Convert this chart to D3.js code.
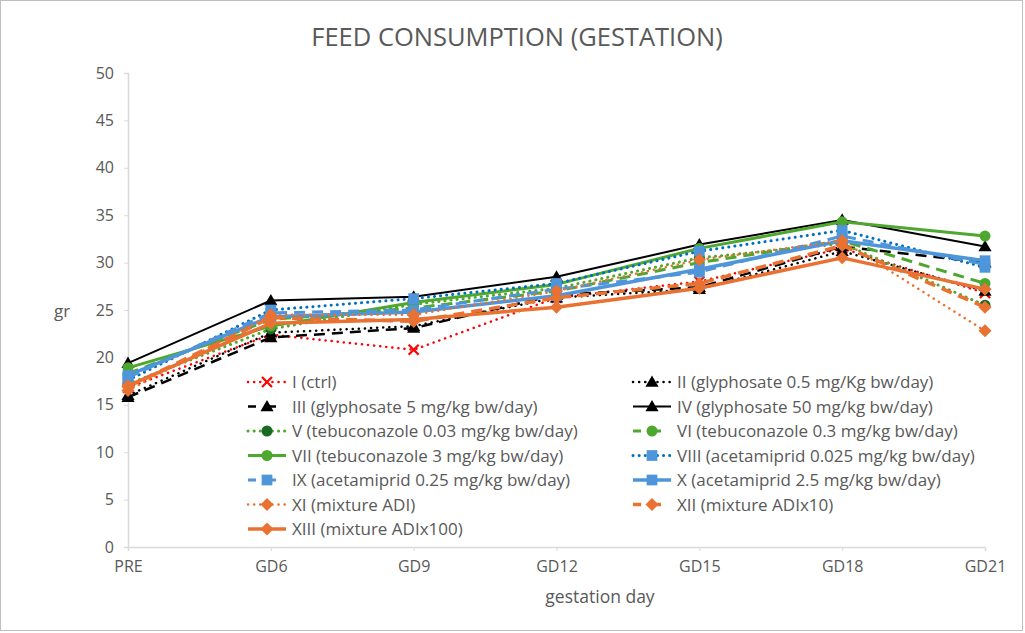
<!DOCTYPE html>
<html>
<head>
<meta charset="utf-8">
<script src="https://cdn.jsdelivr.net/npm/d3@7"></script>
<style>
  body { margin: 0; background: #fff; }
  text { font-family: "Open Sans", "Noto Sans", sans-serif; fill: #595959; }
</style>
</head>
<body>
<script>
// categories on the x axis
var days = ["PRE", "GD6", "GD9", "GD12", "GD15", "GD18", "GD21"];
var yTicks = [0, 5, 10, 15, 20, 25, 30, 35, 40, 45, 50];

// feed consumption (gr)
var grpI    = [16.8, 22.4, 20.8, 26.3, 28.0, 31.5, 26.8];
var grpII   = [16.0, 22.6, 23.3, 26.3, 27.2, 31.2, 27.0];
var grpIII  = [15.8, 22.1, 23.1, 26.6, 27.4, 31.7, 30.0];
var grpIV   = [19.4, 26.0, 26.4, 28.5, 31.9, 34.5, 31.7];
var grpV    = [17.2, 23.0, 25.6, 27.3, 30.5, 32.0, 25.5];
var grpVI   = [18.3, 24.0, 25.2, 27.0, 30.0, 32.3, 27.8];
var grpVII  = [18.9, 23.3, 25.8, 27.7, 31.5, 34.3, 32.8];
var grpVIII = [17.6, 25.0, 26.2, 27.8, 31.2, 33.4, 29.5];
var grpIX   = [17.9, 24.7, 25.0, 27.2, 29.0, 32.8, 29.8];
var grpX    = [18.1, 24.3, 24.8, 26.5, 29.3, 32.3, 30.2];
var grpXI   = [16.5, 24.5, 24.5, 27.0, 30.3, 32.3, 22.8];
var grpXII  = [16.9, 24.2, 23.8, 26.3, 27.8, 31.8, 25.3];
var grpXIII = [17.0, 23.6, 24.0, 25.3, 27.3, 30.5, 27.2];

var names = ["I (ctrl)", "II (glyphosate 0.5 mg/Kg bw/day)", "III (glyphosate 5 mg/kg bw/day)",
  "IV (glyphosate 50 mg/kg bw/day)", "V (tebuconazole 0.03 mg/kg bw/day)", "VI (tebuconazole 0.3 mg/kg bw/day)",
  "VII (tebuconazole 3 mg/kg bw/day)", "VIII (acetamiprid 0.025 mg/kg bw/day)", "IX (acetamiprid 0.25 mg/kg bw/day)",
  "X (acetamiprid 2.5 mg/kg bw/day)", "XI (mixture ADI)", "XII (mixture ADIx10)", "XIII (mixture ADIx100)"];
var values = [grpI, grpII, grpIII, grpIV, grpV, grpVI, grpVII, grpVIII, grpIX, grpX, grpXI, grpXII, grpXIII];

// look of each series
var red = "#FF0000", blk = "#000000", grn = "#4EA72E", dgrn = "#196B24",
    blu = "#4E95D9", dblu = "#0070C0", org = "#E97132";
var styles = [
  {line: red,  mark: red,  dash: "dot",  w: 2.5, shape: "x"},
  {line: blk,  mark: blk,  dash: "dot",  w: 2.5, shape: "tri"},
  {line: blk,  mark: blk,  dash: "dash", w: 2.5, shape: "tri"},
  {line: blk,  mark: blk,  dash: null,   w: 2,   shape: "tri"},
  {line: grn,  mark: dgrn, dash: "dot",  w: 3,   shape: "circle"},
  {line: grn,  mark: grn,  dash: "dash", w: 3,   shape: "circle"},
  {line: grn,  mark: grn,  dash: null,   w: 3,   shape: "circle"},
  {line: dblu, mark: blu,  dash: "dot",  w: 3,   shape: "square"},
  {line: blu,  mark: blu,  dash: "dash", w: 3,   shape: "square"},
  {line: blu,  mark: blu,  dash: null,   w: 3.5, shape: "square"},
  {line: org,  mark: org,  dash: "dot",  w: 2.5, shape: "diamond"},
  {line: org,  mark: org,  dash: "dash", w: 3.5, shape: "diamond"},
  {line: org,  mark: org,  dash: null,   w: 3.5, shape: "diamond"}
];

var width = 1025, height = 633;
var margin = {top: 73, right: 40, bottom: 86, left: 128};

var svg = d3.select("body").append("svg")
  .attr("width", width)
  .attr("height", height);

svg.append("rect")
  .attr("x", 0.5).attr("y", 0.5)
  .attr("width", width - 3).attr("height", height - 3)
  .attr("fill", "#fff").attr("stroke", "#BFBFBF");

var x = d3.scalePoint().domain(days).range([margin.left, width - margin.right]);
var y = d3.scaleLinear().domain([0, 50]).range([height - margin.bottom, margin.top]);

// axes
var yAxis = svg.append("g")
  .attr("transform", `translate(${margin.left},0)`)
  .call(d3.axisLeft(y).tickValues(yTicks).tickSize(4).tickPadding(10));
var xAxis = svg.append("g")
  .attr("transform", `translate(0,${y(0)})`)
  .call(d3.axisBottom(x).tickSize(4).tickPadding(10));
[xAxis, yAxis].forEach(function (a) {
  a.select(".domain").attr("stroke", "#D9D9D9").attr("stroke-width", 1.5);
  a.selectAll(".tick line").attr("stroke", "#D9D9D9");
  a.selectAll(".tick text").style("font-size", "16px").attr("fill", "#595959")
    .style("font-family", "'Open Sans', sans-serif");
});

svg.append("text")
  .attr("x", 517).attr("y", 46)
  .attr("text-anchor", "middle")
  .style("font-size", "25.5px")
  .text("FEED CONSUMPTION (GESTATION)");
svg.append("text")
  .attr("x", 600).attr("y", 603)
  .attr("text-anchor", "middle")
  .style("font-size", "17.5px")
  .text("gestation day");
svg.append("text")
  .attr("x", 62).attr("y", 317)
  .attr("text-anchor", "middle")
  .style("font-size", "17px")
  .text("gr");

function dashArray(d) {
  if (d === "dot") return "0.1 6";
  if (d === "dash") return "11 7";
  return null;
}

function drawMarker(g, shape, cx, cy, color) {
  var s;
  if (shape === "x") {
    s = 5;
    g.append("path")
      .attr("d", `M${cx - s},${cy - s}L${cx + s},${cy + s}M${cx - s},${cy + s}L${cx + s},${cy - s}`)
      .attr("stroke", color).attr("stroke-width", 2.2).attr("fill", "none");
    return;
  }
  if (shape === "diamond") {
    s = 6.5;
    g.append("path")
      .attr("d", `M${cx},${cy - s}L${cx + s},${cy}L${cx},${cy + s}L${cx - s},${cy}Z`)
      .attr("fill", color);
    return;
  }
  var sym = {tri: d3.symbolTriangle, circle: d3.symbolCircle, square: d3.symbolSquare}[shape];
  var size = {tri: 75, circle: 95, square: 115}[shape];
  g.append("path")
    .attr("d", d3.symbol().type(sym).size(size)())
    .attr("transform", `translate(${cx},${cy + (shape === "tri" ? 1 : 0)})`)
    .attr("fill", color);
}

var line = d3.line()
  .x(function (d, i) { return x(days[i]); })
  .y(function (d) { return y(d); });

var plot = svg.append("g");
values.forEach(function (vals, k) {
  var st = styles[k];
  var g = plot.append("g");
  g.append("path")
    .datum(vals)
    .attr("d", line)
    .attr("fill", "none")
    .attr("stroke", st.line)
    .attr("stroke-width", st.w)
    .attr("stroke-linecap", st.dash === "dot" ? "round" : "butt")
    .attr("stroke-linejoin", "round")
    .attr("stroke-dasharray", dashArray(st.dash));
  vals.forEach(function (v, i) {
    drawMarker(g, st.shape, x(days[i]), y(v), st.mark);
  });
});

// legend, two columns
var legX = [248, 633], legY0 = 382, legDy = 24.5;
var legend = svg.append("g");
names.forEach(function (n, k) {
  var st = styles[k];
  var lx = legX[k % 2], ly = legY0 + Math.floor(k / 2) * legDy;
  var g = legend.append("g");
  g.append("line")
    .attr("x1", lx).attr("x2", lx + 38)
    .attr("y1", ly).attr("y2", ly)
    .attr("stroke", st.line)
    .attr("stroke-width", st.w)
    .attr("stroke-linecap", st.dash === "dot" ? "round" : "butt")
    .attr("stroke-dasharray", st.dash === "dash" ? "8 12" : dashArray(st.dash));
  drawMarker(g, st.shape, lx + 19, ly, st.mark);
  g.append("text")
    .attr("x", lx + 44).attr("y", ly + 6)
    .style("font-size", "17px")
    .text(n);
});
</script>
</body>
</html>
